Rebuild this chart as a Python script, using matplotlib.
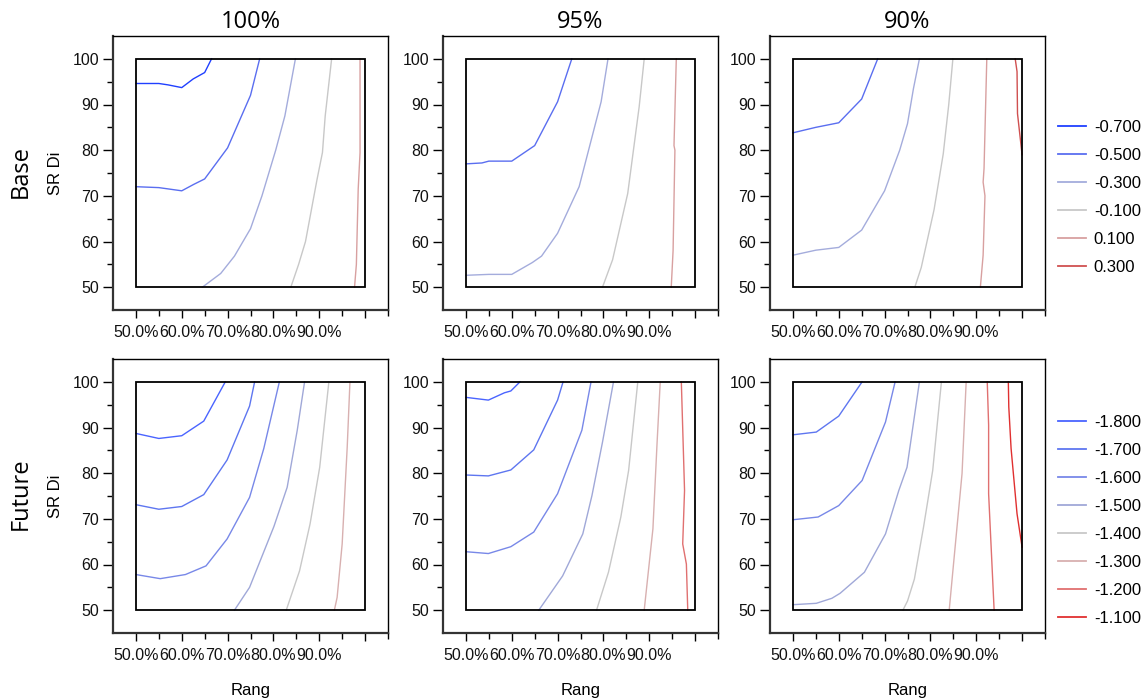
import matplotlib
matplotlib.use("Agg")
import matplotlib.pyplot as plt
from matplotlib.patches import Rectangle
from matplotlib.lines import Line2D

plt.rcParams['font.family'] = ['Liberation Sans', 'DejaVu Sans']

# contour levels and their colours, one set per row
base_levels = [-0.7, -0.5, -0.3, -0.1, 0.1, 0.3]
base_colors = ['#2040ff', '#5a6ef0', '#a4acdc', '#c8c8c8', '#d8a0a0', '#d05050']
future_levels = [-1.8, -1.7, -1.6, -1.5, -1.4, -1.3, -1.2, -1.1]
future_colors = ['#4a64ff', '#5e76f0', '#7888e8', '#a0a8d8', '#c8c8c8',
                 '#d8b0b0', '#e07070', '#e03030']

col_titles = ['100%', '95%', '90%']
row_titles = ['Base', 'Future']

# contour lines: (level, x points, y points)
base_100 = [
    (-0.7, [50, 55, 57, 60, 62.5, 65, 66.5], [94.6, 94.6, 94.3, 93.7, 95.6, 97, 100]),
    (-0.5, [50, 55, 60, 62.6, 65, 70, 75, 77], [72, 71.8, 71.1, 72.5, 73.7, 80.5, 92, 100]),
    (-0.3, [64.5, 68.5, 71.5, 75, 77.5, 80.5, 82.5, 84.8], [50, 53, 56.8, 62.8, 70, 80, 87.5, 100]),
    (-0.1, [83.8, 85.5, 87, 89.5, 90.7, 91.3, 92.7], [50, 55, 60, 73.5, 79.5, 87.5, 100]),
    (0.1, [97.7, 98.1, 98.5, 98.9, 98.9], [50, 55, 71.5, 79.5, 100]),
]
base_95 = [
    (-0.5, [50, 53.5, 55, 60, 65, 70, 73.1], [77, 77.2, 77.6, 77.6, 81, 90.6, 100]),
    (-0.3, [50, 55, 60, 64.5, 66.5, 70, 74.7, 79.5, 81], [52.6, 52.8, 52.8, 55.4, 56.8, 61.8, 72, 90.6, 100]),
    (-0.1, [79.8, 82, 85.3, 87.8, 88.9], [50, 56, 70.5, 89.5, 100]),
    (0.1, [94.8, 95.2, 95.6, 95.4, 95.9], [50, 58, 80, 81, 100]),
]
base_90 = [
    (-0.5, [50, 55, 60, 65, 68.5], [83.8, 85, 86, 91.2, 100]),
    (-0.3, [50, 55, 60, 65, 70, 73.3, 75, 76.3, 77.6], [57, 58.1, 58.7, 62.5, 71.1, 80, 85.8, 93.5, 100]),
    (-0.1, [76.6, 78, 80.8, 82.8, 84, 84.9], [50, 54.3, 67, 79.2, 90, 100]),
    (0.1, [90.9, 91.5, 91.9, 91.5, 91.7, 92.3], [50, 57, 70, 73, 76, 100]),
    (0.3, [98.5, 98.9, 99, 100], [100, 97.2, 88, 79]),
]
future_100 = [
    (-1.8, [50, 55, 60, 64.8, 69.5], [88.7, 87.6, 88.2, 91.4, 100]),
    (-1.7, [50, 55, 60, 64.8, 69.9, 74.8, 75.9], [73.1, 72.1, 72.7, 75.3, 82.9, 94.7, 100]),
    (-1.6, [50, 55.3, 60.8, 65.3, 69.9, 74.8, 77.9, 81.3], [57.8, 56.9, 57.8, 59.7, 65.6, 74.7, 85.4, 100]),
    (-1.5, [71.5, 74.8, 80.1, 83, 85.2, 86.8], [50, 55, 68.3, 76.9, 89.4, 100]),
    (-1.4, [82.8, 85.7, 88, 90.1, 92.1], [50, 58.6, 68.9, 81.3, 100]),
    (-1.3, [93.3, 93.9, 95, 96.1, 96.7], [50, 52.8, 64.5, 85.7, 100]),
]
future_95 = [
    (-1.8, [50, 54.9, 58.4, 59.8, 61.8], [96.6, 96, 97.6, 98, 100]),
    (-1.7, [50, 54.9, 59.8, 64.8, 70, 71.2], [79.6, 79.4, 80.7, 85.1, 96, 100]),
    (-1.6, [50, 54.9, 59.8, 64.8, 70, 75.3, 77.3], [62.8, 62.4, 63.9, 67.1, 75.5, 89.4, 100]),
    (-1.5, [65.9, 71.1, 75.5, 77.5, 79.8, 82.2], [50, 57.5, 66.7, 75.1, 86.8, 100]),
    (-1.4, [78.5, 81.1, 83.8, 85.5, 87.5], [50, 58.3, 70.4, 80.6, 100]),
    (-1.3, [88.9, 90.8, 91.7, 92.4], [50, 67.8, 86.5, 100]),
    (-1.2, [98.4, 98.1, 97.3, 97.7, 97.3, 97], [50, 60.1, 64.5, 76.2, 89.8, 100]),
]
future_90 = [
    (-1.7, [50, 55.1, 60, 63.6, 65.1], [88.4, 89, 92.5, 97.8, 100]),
    (-1.6, [50, 55.5, 60, 65.1, 70.2, 72.3], [69.8, 70.4, 72.9, 78.4, 91.2, 100]),
    (-1.5, [50, 55.1, 58.5, 60.3, 65.6, 70.2, 73.1, 74.9, 77.6], [51.2, 51.5, 52.6, 53.7, 58.3, 66.7, 76.2, 81.3, 100]),
    (-1.4, [74, 75, 76.5, 78.5, 80.5, 82.4], [50, 52, 56.8, 68.2, 80.6, 100]),
    (-1.3, [84.1, 84.9, 86.9, 87.8], [50, 58.6, 79.9, 100]),
    (-1.2, [93.9, 92.7, 92.7, 92.4], [50, 75.5, 90.5, 100]),
    (-1.1, [100, 98.9, 97.6, 97.1, 97], [63.8, 71.1, 85.4, 94.5, 100]),
]

W, H = 1144, 698
fig = plt.figure(figsize=(W / 100, H / 100), dpi=100)

lefts = [113, 443, 770]
tops = [36, 359]
aw, ah = 275, 274

rows = [
    (base_levels, base_colors, [base_100, base_95, base_90]),
    (future_levels, future_colors, [future_100, future_95, future_90]),
]

for r, (levels, colors, panels) in enumerate(rows):
    for c, lines in enumerate(panels):
        ax = fig.add_axes([lefts[c] / W, 1 - (tops[r] + ah) / H, aw / W, ah / H])
        for lev, xs, ys in lines:
            col = colors[levels.index(lev)]
            ax.plot(xs, ys, color=col, lw=1.0)
        ax.add_patch(Rectangle((50, 50), 50, 50, fill=False, ec='black', lw=1.3, zorder=3))
        ax.set_xlim(45, 105)
        ax.set_ylim(45, 105)

        ax.set_xticks([50, 60, 70, 80, 90, 100])
        ax.set_xticklabels(['50.0%', '60.0%', '70.0%', '80.0%', '90.0%', ''])
        ax.set_xticks([55, 65, 75, 85, 95, 105], minor=True)
        ax.set_yticks([50, 60, 70, 80, 90, 100])
        ax.set_yticks([55, 65, 75, 85, 95], minor=True)
        ax.tick_params(which='major', length=7, width=1, labelsize=11.5, labelcolor='#111111')
        ax.tick_params(which='minor', length=4, width=1)
        ax.tick_params(axis='x', which='major', length=6, pad=5)
        ax.tick_params(axis='y', which='major', pad=3)

        for s in ['left', 'bottom']:
            ax.spines[s].set_linewidth(1.6)
            ax.spines[s].set_color('#333333')
        for s in ['top', 'right']:
            ax.spines[s].set_linewidth(1.0)
            ax.spines[s].set_color('black')

        if r == 0:
            ax.set_title(col_titles[c], fontsize=17, family=['Open Sans', 'DejaVu Sans'], pad=6)
        if r == 1:
            ax.set_xlabel('Rang', fontsize=12, labelpad=14)
        if c == 0:
            ax.set_ylabel('SR Di', fontsize=12, labelpad=7)
            fig.text(21 / W, 1 - (tops[r] + ah / 2 - 2) / H, row_titles[r], rotation=90,
                     fontsize=17, family=['Open Sans', 'DejaVu Sans'],
                     ha='center', va='center')

    handles = [Line2D([], [], color=col, lw=1.3) for col in colors]
    labels = ['%.3f' % v for v in levels]
    ytop = 120 if r == 0 else 415
    fig.legend(handles, labels, loc='upper left',
               bbox_to_anchor=(1058 / W, 1 - ytop / H),
               frameon=False, fontsize=12, handlelength=1.7,
               handletextpad=0.45, labelspacing=0.78,
               borderpad=0, borderaxespad=0)

fig.savefig('out.png', dpi=100)
